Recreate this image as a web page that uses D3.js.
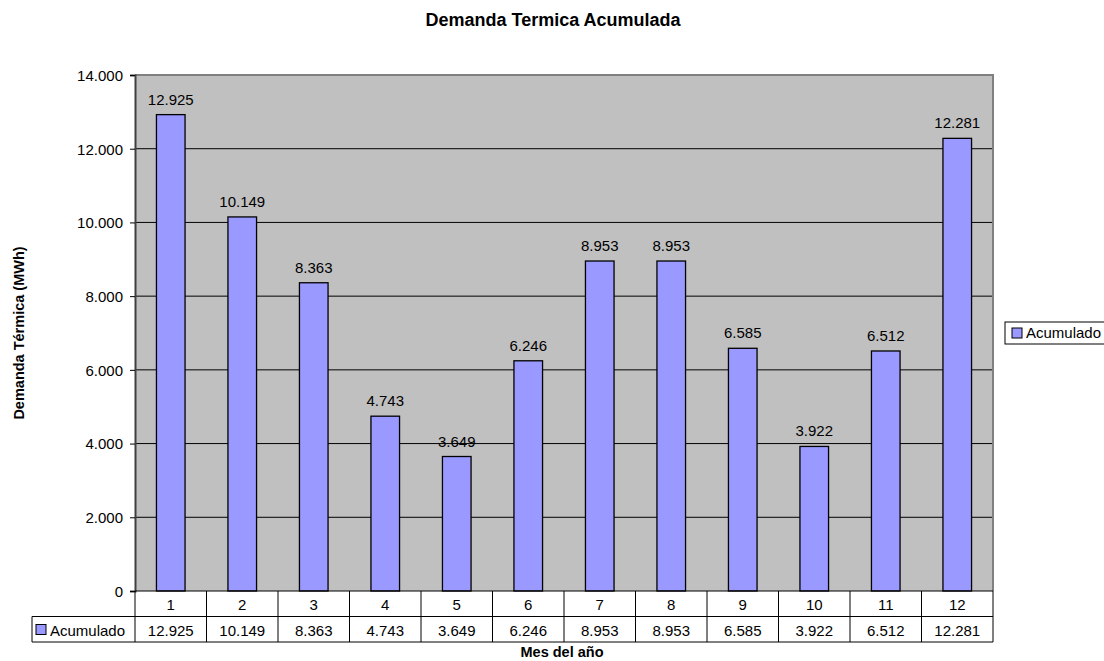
<!DOCTYPE html>
<meta charset="utf-8">
<script src="https://cdn.jsdelivr.net/npm/d3@7"></script>
<style>
body { margin: 0; background: #fff; }
text { font-family: "Liberation Sans", Arial, sans-serif; fill: #000; }
.tick text { font-size: 15px; }
</style>
<body>
<script>

var months = ["1", "2", "3", "4", "5", "6", "7", "8", "9", "10", "11", "12"]
var acumulado = [12925, 10149, 8363, 4743, 3649, 6246, 8953, 8953, 6585, 3922, 6512, 12281]
var yTicks = [0, 2000, 4000, 6000, 8000, 10000, 12000, 14000]
var seriesName = "Acumulado"

var width = 1104
var height = 661
var plot = {left: 135, right: 993, top: 75, bottom: 591}
var rowH = 25.5

var loc = d3.formatLocale({decimal: ",", thousands: ".", grouping: [3], currency: ["", ""]})
var fmt = loc.format(",")

var svg = d3.select("body").append("svg")
            .attr("width", width)
            .attr("height", height)

var x = d3.scaleBand().domain(months).range([plot.left, plot.right]).padding(0)
var y = d3.scaleLinear().domain([0, 14000]).range([plot.bottom, plot.top])

// plot background
svg.append("rect")
   .attr("x", plot.left).attr("y", plot.top)
   .attr("width", plot.right - plot.left).attr("height", plot.bottom - plot.top)
   .style("fill", "#c0c0c0")

// gridlines
svg.append("g").selectAll("line")
   .data(yTicks.slice(1, -1))
   .join("line")
   .attr("x1", plot.left).attr("x2", plot.right)
   .attr("y1", d => y(d)).attr("y2", d => y(d))
   .style("stroke", "#000").style("stroke-width", 1)

// bars
var bw = x.bandwidth() * 0.4
svg.append("g").selectAll("rect")
   .data(acumulado)
   .join("rect")
   .attr("x", (d, i) => x(months[i]) + (x.bandwidth() - bw) / 2)
   .attr("y", d => y(d))
   .attr("width", bw)
   .attr("height", d => y(0) - y(d))
   .style("fill", "#9999ff")
   .style("stroke", "#000")
   .style("stroke-width", 1.3)

// value labels
svg.append("g").selectAll("text")
   .data(acumulado)
   .join("text")
   .attr("x", (d, i) => x(months[i]) + x.bandwidth() / 2)
   .attr("y", d => y(d) - 10)
   .style("text-anchor", "middle")
   .style("font-size", "15px")
   .text(d => fmt(d))

// plot border
svg.append("path")
   .attr("d", "M" + plot.left + "," + plot.top + "H" + plot.right + "V" + plot.bottom)
   .style("fill", "none").style("stroke", "#808080").style("stroke-width", 2)

// y axis
var yAxis = svg.append("g")
   .attr("transform", "translate(" + plot.left + ",0)")
   .call(d3.axisLeft(y).tickValues(yTicks).tickFormat(fmt).tickSize(5).tickPadding(7))
yAxis.select(".domain").style("stroke", "#404040").style("stroke-width", 2)
yAxis.selectAll(".tick line").style("stroke", "#000")
yAxis.selectAll(".tick text").attr("dy", "0.36em")

// data table
var tbl = svg.append("g")
var r1 = plot.bottom, r2 = plot.bottom + rowH, r3 = plot.bottom + 2 * rowH
var legendLeft = 32

tbl.append("line").attr("x1", plot.left).attr("x2", plot.right).attr("y1", r1).attr("y2", r1)
tbl.append("line").attr("x1", legendLeft).attr("x2", plot.right).attr("y1", r2).attr("y2", r2)
tbl.append("line").attr("x1", legendLeft).attr("x2", plot.right).attr("y1", r3).attr("y2", r3)
tbl.append("line").attr("x1", legendLeft).attr("x2", legendLeft).attr("y1", r2).attr("y2", r3)
tbl.selectAll(".vline")
   .data(months)
   .join("line")
   .attr("class", "vline")
   .attr("x1", d => x(d)).attr("x2", d => x(d))
   .attr("y1", r1).attr("y2", r3)
tbl.append("line").attr("x1", plot.right).attr("x2", plot.right).attr("y1", r1).attr("y2", r3)
tbl.selectAll("line").style("stroke", "#000").style("stroke-width", 1)

tbl.selectAll(".mes")
   .data(months)
   .join("text")
   .attr("class", "mes")
   .attr("x", d => x(d) + x.bandwidth() / 2)
   .attr("y", r1 + 19)
   .style("text-anchor", "middle")
   .style("font-size", "15px")
   .text(d => d)

tbl.selectAll(".val")
   .data(acumulado)
   .join("text")
   .attr("class", "val")
   .attr("x", (d, i) => x(months[i]) + x.bandwidth() / 2)
   .attr("y", r2 + 19)
   .style("text-anchor", "middle")
   .style("font-size", "15px")
   .text(d => fmt(d))

tbl.append("rect")
   .attr("x", 36).attr("y", r2 + 8).attr("width", 10).attr("height", 10)
   .style("fill", "#9999ff").style("stroke", "#000").style("stroke-width", 1)
tbl.append("text")
   .attr("x", 50).attr("y", r2 + 19)
   .style("font-size", "15px")
   .text(seriesName)

// legend
var lg = svg.append("g").attr("transform", "translate(1005,322)")
lg.append("rect")
  .attr("x", 0).attr("y", 0).attr("width", 110).attr("height", 22)
  .style("fill", "#fff").style("stroke", "#000").style("stroke-width", 1)
lg.append("rect")
  .attr("x", 7).attr("y", 6).attr("width", 10).attr("height", 10)
  .style("fill", "#9999ff").style("stroke", "#000").style("stroke-width", 1)
lg.append("text")
  .attr("x", 21).attr("y", 16)
  .style("font-size", "15px")
  .text(seriesName)

// titles
svg.append("text")
   .attr("x", 553).attr("y", 26)
   .style("text-anchor", "middle")
   .style("font-size", "18px")
   .style("font-weight", "bold")
   .text("Demanda Termica Acumulada")

svg.append("text")
   .attr("x", 562).attr("y", 657)
   .style("text-anchor", "middle")
   .style("font-size", "14.5px")
   .style("font-weight", "bold")
   .text("Mes del año")

svg.append("text")
   .attr("transform", "translate(24," + ((plot.top + plot.bottom) / 2) + ") rotate(-90)")
   .style("text-anchor", "middle")
   .style("font-size", "14.5px")
   .style("font-weight", "bold")
   .text("Demanda Térmica (MWh)")

</script>
</body>
